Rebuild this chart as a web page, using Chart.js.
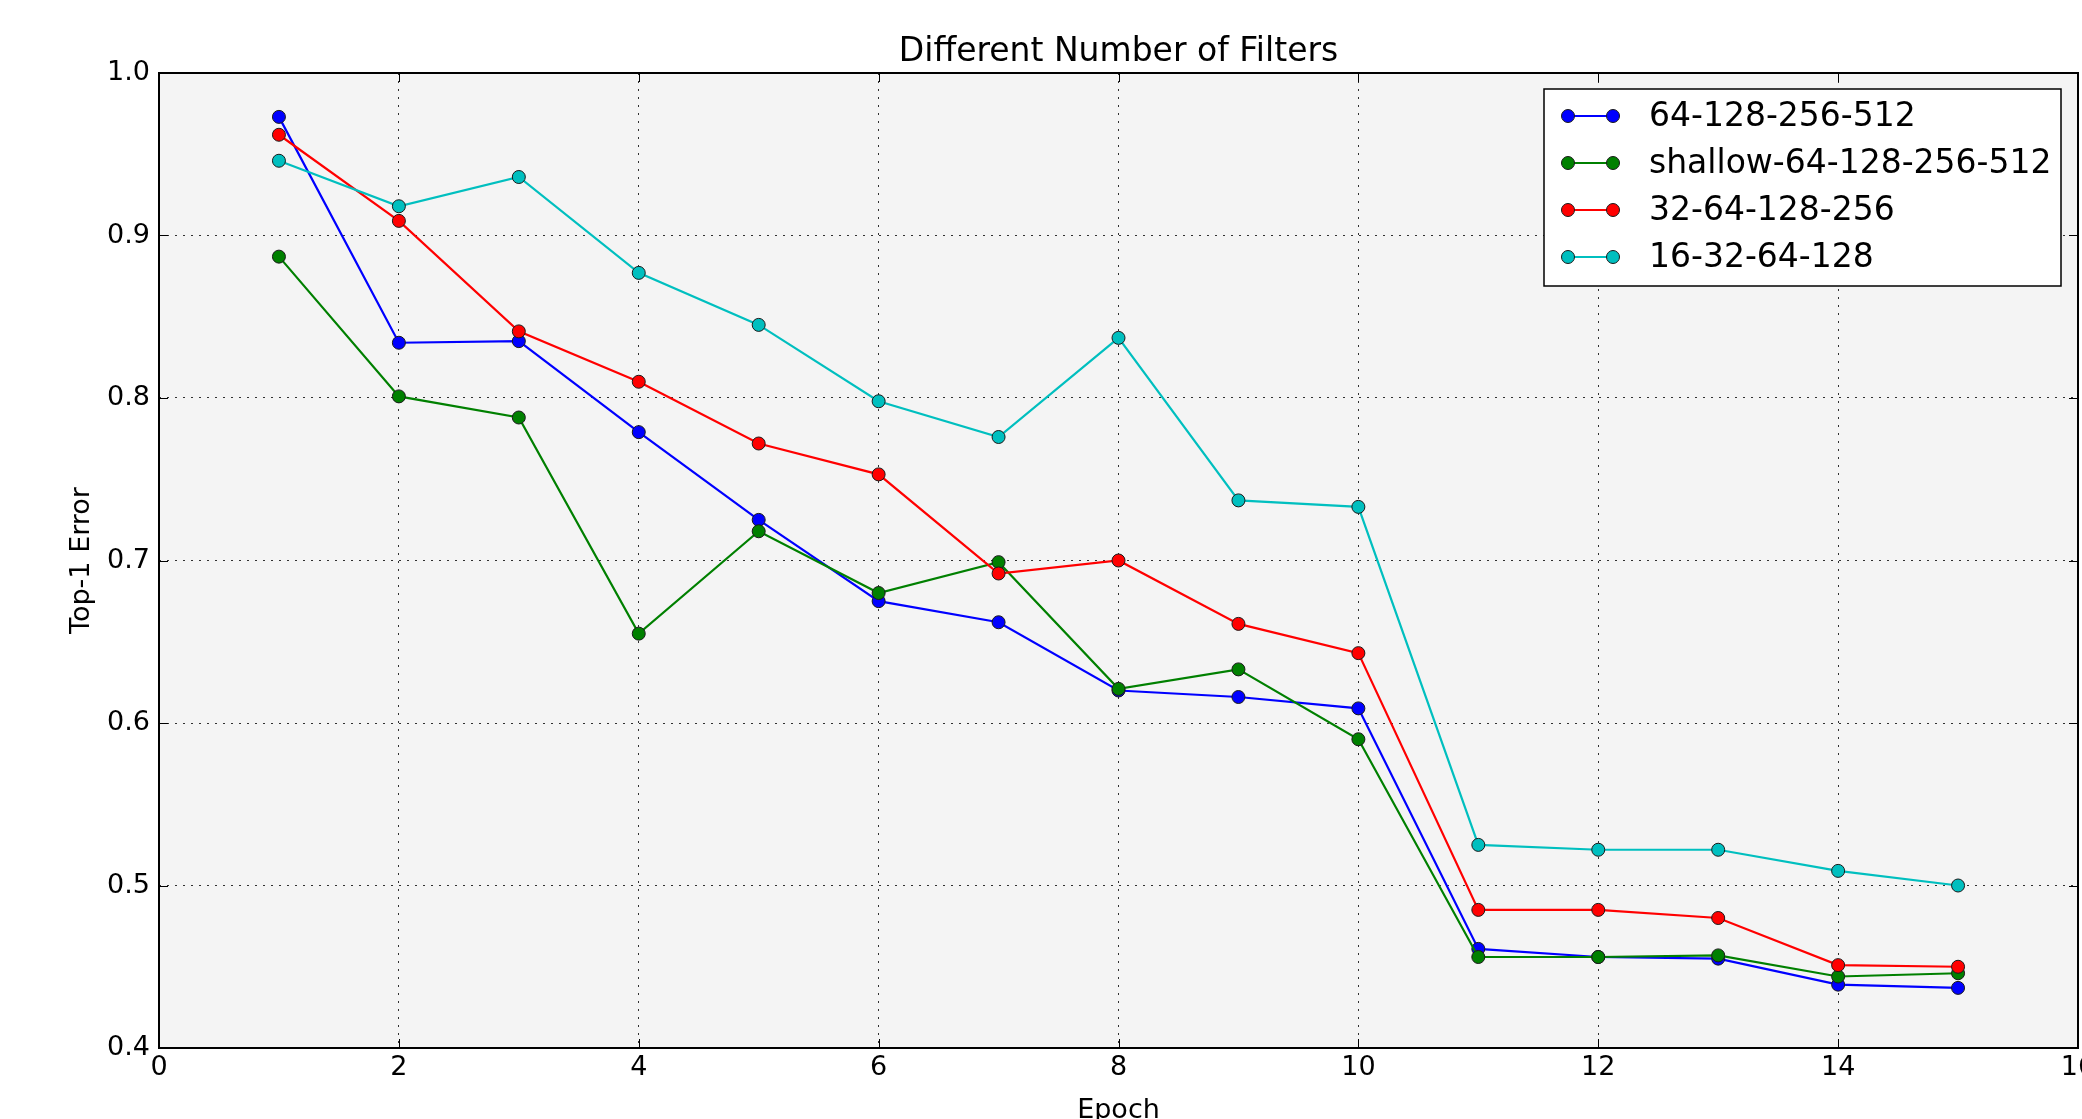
<!DOCTYPE html>
<html>
<head>
<meta charset="utf-8">
<script src="https://cdn.jsdelivr.net/npm/chart.js@4/dist/chart.umd.min.js"></script>
<style>
html,body{margin:0;padding:0;background:#fff;overflow:hidden;}
canvas{display:block;}
</style>
</head>
<body>
<canvas id="c" width="2082" height="1119"></canvas>
<script>
const titleText = "Different Number of Filters";
const xTitle = "Epoch";
const yTitle = "Top-1 Error";
const epochs = [1,2,3,4,5,6,7,8,9,10,11,12,13,14,15];
const seriesNames = ["64-128-256-512","shallow-64-128-256-512","32-64-128-256","16-32-64-128"];
const seriesColors = ["#0000ff","#008000","#ff0000","#00bfbf"];
const s64 = [0.973,0.834,0.835,0.779,0.725,0.675,0.662,0.620,0.616,0.609,0.461,0.456,0.455,0.439,0.437];
const sShallow = [0.887,0.801,0.788,0.655,0.718,0.680,0.699,0.621,0.633,0.590,0.456,0.456,0.457,0.444,0.446];
const s32 = [0.962,0.909,0.841,0.810,0.772,0.753,0.692,0.700,0.661,0.643,0.485,0.485,0.480,0.451,0.450];
const s16 = [0.946,0.918,0.936,0.877,0.845,0.798,0.776,0.837,0.737,0.733,0.525,0.522,0.522,0.509,0.500];
const xTicks = [0,2,4,6,8,10,12,14,16];
const yTicks = [0.4,0.5,0.6,0.7,0.8,0.9,1.0];

const allSeries = [s64, sShallow, s32, s16];
const FONT = "'DejaVu Sans', sans-serif";

const datasets = allSeries.map((vals, i) => ({
  label: seriesNames[i],
  data: epochs.map((e, j) => ({x: e, y: vals[j]})),
  borderColor: seriesColors[i],
  backgroundColor: seriesColors[i],
  pointBackgroundColor: seriesColors[i],
  pointBorderColor: "#1a1a1a",
  pointBorderWidth: 1,
  pointRadius: 6.5,
  borderWidth: 2.2,
  tension: 0,
  order: allSeries.length - i
}));

const decor = {
  id: "decor",
  beforeDraw(chart) {
    const ctx = chart.ctx, a = chart.chartArea;
    ctx.save();
    ctx.fillStyle = "#ffffff";
    ctx.fillRect(0, 0, chart.width, chart.height);
    ctx.fillStyle = "#f4f4f4";
    ctx.fillRect(a.left, a.top, a.right - a.left, a.bottom - a.top);
    ctx.restore();
  },
  afterDraw(chart) {
    const ctx = chart.ctx, a = chart.chartArea;
    const xs = chart.scales.x, ys = chart.scales.y;
    ctx.save();
    ctx.strokeStyle = "#000";
    ctx.lineWidth = 1;
    ctx.beginPath();
    xTicks.forEach(v => {
      const px = Math.round(xs.getPixelForValue(v)) + 0.5;
      ctx.moveTo(px, a.bottom); ctx.lineTo(px, a.bottom - 9);
      ctx.moveTo(px, a.top); ctx.lineTo(px, a.top + 9);
    });
    yTicks.forEach(v => {
      const py = Math.round(ys.getPixelForValue(v)) + 0.5;
      ctx.moveTo(a.left, py); ctx.lineTo(a.left + 9, py);
      ctx.moveTo(a.right, py); ctx.lineTo(a.right - 9, py);
    });
    ctx.stroke();
    ctx.lineWidth = 2;
    ctx.strokeStyle = "#000";
    ctx.strokeRect(a.left, a.top, a.right - a.left, a.bottom - a.top);
    ctx.fillStyle = "#000";
    ctx.textAlign = "center";
    ctx.textBaseline = "middle";
    ctx.font = "33px " + FONT;
    ctx.fillText(titleText, (a.left + a.right) / 2, 52);
    ctx.font = "27px " + FONT;
    ctx.fillText(xTitle, (a.left + a.right) / 2, 1111);
    ctx.save();
    ctx.translate(82, (a.top + a.bottom) / 2);
    ctx.rotate(-Math.PI / 2);
    ctx.fillText(yTitle, 0, 0);
    ctx.restore();
    const bx = 1544, by = 89, bw = 517, bh = 197;
    ctx.fillStyle = "#ffffff";
    ctx.fillRect(bx, by, bw, bh);
    ctx.lineWidth = 1.5;
    ctx.strokeStyle = "#000";
    ctx.strokeRect(bx, by, bw, bh);
    chart.data.datasets.forEach((ds, i) => {
      const y = 116 + 47 * i;
      ctx.strokeStyle = ds.borderColor;
      ctx.lineWidth = 2;
      ctx.beginPath();
      ctx.moveTo(1568, y); ctx.lineTo(1613, y);
      ctx.stroke();
      [1568, 1613].forEach(mx => {
        ctx.beginPath();
        ctx.arc(mx, y, 6.5, 0, Math.PI * 2);
        ctx.fillStyle = ds.pointBackgroundColor;
        ctx.fill();
        ctx.lineWidth = 1;
        ctx.strokeStyle = "#1a1a1a";
        ctx.stroke();
      });
      ctx.fillStyle = "#000";
      ctx.textAlign = "left";
      ctx.textBaseline = "middle";
      ctx.font = "33px " + FONT;
      ctx.fillText(ds.label, 1649, y + 1);
    });
    ctx.restore();
  }
};

new Chart(document.getElementById("c"), {
  type: "line",
  data: { datasets },
  plugins: [decor],
  options: {
    responsive: false,
    devicePixelRatio: 1,
    animation: false,
    layout: { padding: { left: 0, top: 73, right: 4, bottom: 0 }, autoPadding: false },
    plugins: { legend: { display: false }, title: { display: false }, tooltip: { enabled: false } },
    scales: {
      x: {
        type: "linear",
        min: 0, max: 16,
        afterFit(s) { s.height = 71; s.paddingLeft = 0; s.paddingRight = 0; },
        afterBuildTicks(s) { s.ticks = xTicks.map(v => ({ value: v })); },
        ticks: { color: "#000", font: { family: FONT, size: 27 }, padding: 4, maxRotation: 0, autoSkip: false, callback: v => String(v) },
        grid: { color: "rgba(0,0,0,0.8)", lineWidth: 1, drawTicks: false },
        border: { display: false, dash: [2, 6] }
      },
      y: {
        type: "linear",
        min: 0.4, max: 1.0,
        afterFit(s) { s.width = 159; s.paddingTop = 0; s.paddingBottom = 0; },
        afterBuildTicks(s) { s.ticks = yTicks.map(v => ({ value: v })); },
        ticks: { color: "#000", font: { family: FONT, size: 27 }, padding: 9, autoSkip: false, callback: v => Number(v).toFixed(1) },
        grid: { color: "rgba(0,0,0,0.8)", lineWidth: 1, drawTicks: false },
        border: { display: false, dash: [2, 6] }
      }
    }
  }
});
</script>
</body>
</html>
